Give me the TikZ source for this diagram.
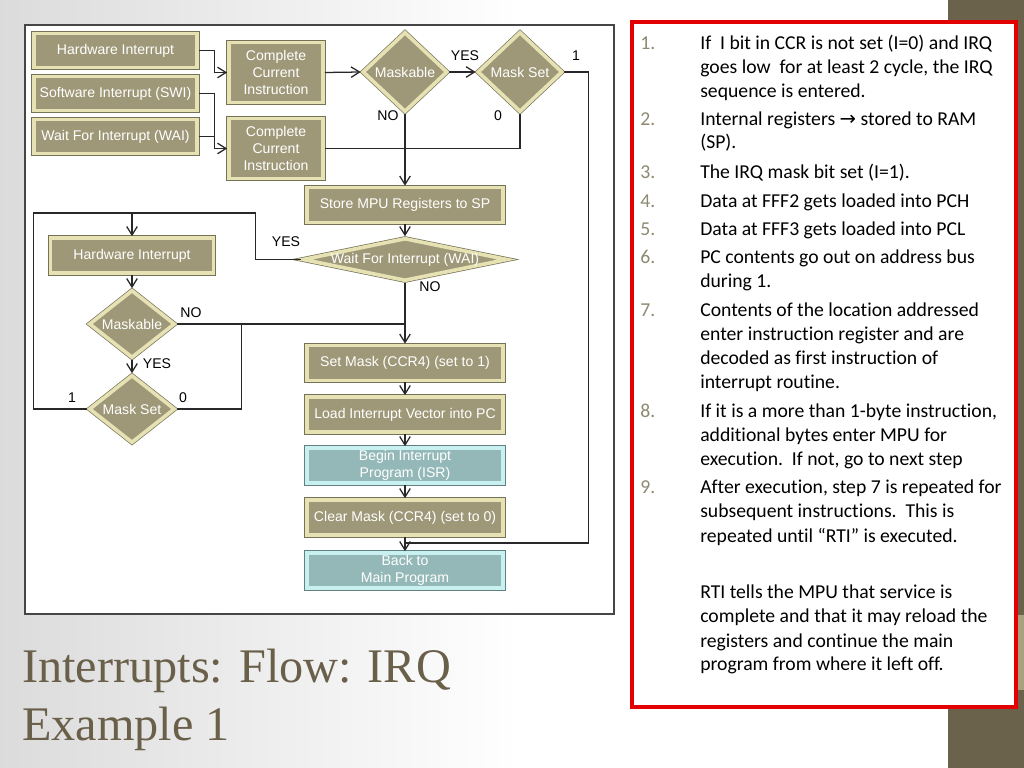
\documentclass[tikz,border=0pt]{standalone}
\usepackage{fontspec}
\setmainfont{Liberation Serif}
\newfontfamily\flowfont{Liberation Sans}
\newfontfamily\panelfont[Ligatures=NoCommon]{Carlito}
\newfontfamily\symfont{DejaVu Sans}
\usepackage{xcolor}
\usetikzlibrary{shapes.geometric, arrows.meta}

\definecolor{boxfill}{RGB}{158,152,120}
\definecolor{boxrim}{RGB}{230,226,180}
\definecolor{boxedge}{RGB}{118,114,88}
\definecolor{isrfill}{RGB}{148,184,184}
\definecolor{isrrim}{RGB}{200,240,240}
\definecolor{isredge}{RGB}{98,128,128}
\definecolor{linecol}{RGB}{40,40,40}
\definecolor{framecol}{RGB}{70,70,70}
\definecolor{titlecol}{RGB}{106,96,74}
\definecolor{stripcol}{RGB}{107,98,76}
\definecolor{tancol}{RGB}{168,162,128}
\definecolor{numcol}{RGB}{142,137,114}
\definecolor{panelred}{RGB}{226,0,0}

\newcommand{\dtext}[1]{\makebox[0pt]{#1}}

\tikzset{
  box/.style={rectangle, fill=boxfill, draw=boxrim, line width=2.6pt,
    preaction={draw=boxedge, line width=3.6pt}, text=white,
    font=\flowfont\fontsize{10}{12}\selectfont, align=center, inner sep=0pt},
  isrbox/.style={box, fill=isrfill, draw=isrrim,
    preaction={draw=isredge, line width=3.6pt}},
  decide/.style={box, diamond, inner sep=0pt},
  flow/.style={draw=linecol, line width=0.9pt, -{Straight Barb[length=6pt,width=7.5pt]}},
  link/.style={draw=linecol, line width=0.9pt},
  tag/.style={font=\flowfont\fontsize{10}{12}\selectfont, inner sep=0pt},
  num/.style={font=\panelfont\fontsize{14}{17}\selectfont, text=numcol, anchor=base west, inner sep=0pt},
  note/.style={font=\panelfont\fontsize{14}{17}\selectfont, anchor=base west, inner sep=0pt},
  headline/.style={font=\fontsize{34.3}{41}\selectfont, text=titlecol, anchor=base west, inner sep=0pt}
}

\begin{document}
\begin{tikzpicture}[x=0.025cm, y=-0.025cm]
  \useasboundingbox (0,0) rectangle (1024,768);
  % slide background
  \fill[white] (0,0) rectangle (1024,768);
  \shade[left color=black!14, right color=white] (0,0) rectangle (520,768);
  \fill[stripcol] (948,0) rectangle (1024,768);
  \fill[tancol] (1017,615) rectangle (1024,690);
  \draw[draw=framecol, line width=0.9pt, fill=white] (25,25) rectangle (614,614);
  \draw[draw=panelred, line width=2.4pt, fill=white] (632,22) rectangle (1016,707);

  % sources
  \node[box, minimum width=4.075cm, minimum height=0.85cm] (hw1) at (115.5,50.5) {Hardware Interrupt};
  \node[box, minimum width=4.075cm, minimum height=0.85cm] (swi) at (115.5,93.5) {Software Interrupt (SWI)};
  \node[box, minimum width=4.075cm, minimum height=0.85cm] (wai) at (115.5,136.5) {Wait For Interrupt (WAI)};
  \node[box, minimum width=2.35cm, minimum height=1.5cm] (cci1) at (276,72.5) {Complete\\Current\\Instruction};
  \node[box, minimum width=2.35cm, minimum height=1.5cm] (cci2) at (276,148.5) {Complete\\Current\\Instruction};
  \node[decide, minimum width=2.125cm, minimum height=2cm] (mask1) at (405,72) {\dtext{Maskable}};
  \node[decide, minimum width=2.125cm, minimum height=2cm] (mset1) at (520,72) {\dtext{Mask Set}};

  % main column
  \node[box, minimum width=4.9cm, minimum height=0.875cm] (store) at (405,205) {Store MPU Registers to SP};
  \node[decide, minimum width=5.125cm, minimum height=1.075cm] (waitd) at (405,259.5) {\dtext{Wait For Interrupt (WAI)}};
  \node[box, minimum width=4.9cm, minimum height=0.875cm] (setm) at (405,363) {Set Mask (CCR4) (set to 1)};
  \node[box, minimum width=4.9cm, minimum height=0.875cm] (load) at (405,414.5) {Load Interrupt Vector into PC};
  \node[isrbox, minimum width=4.9cm, minimum height=0.875cm] (isr) at (405,465.5) {Begin Interrupt\\Program (ISR)};
  \node[box, minimum width=4.9cm, minimum height=0.875cm] (clear) at (405,517.5) {Clear Mask (CCR4) (set to 0)};
  \node[isrbox, minimum width=4.9cm, minimum height=0.875cm] (back) at (405,570.5) {Back to\\Main Program};

  % waiting loop
  \node[box, minimum width=4.075cm, minimum height=0.875cm] (hw2) at (132,255.5) {Hardware Interrupt};
  \node[decide, minimum width=2.15cm, minimum height=1.7cm] (mask2) at (132,324) {\dtext{Maskable}};
  \node[decide, minimum width=2.15cm, minimum height=1.7cm] (mset2) at (132,409) {\dtext{Mask Set}};
  \coordinate (looptop) at (132,213);
  \coordinate (backjoin) at (405,543);

  % branch labels
  \node[tag] (yes1) at (465,56) {YES};
  \node[tag] (one1) at (576,56) {1};
  \node[tag] (no1) at (388,116) {NO};
  \node[tag] (zero1) at (498,116) {0};
  \node[tag] (yes2) at (286,242) {YES};
  \node[tag] (no2) at (430,287) {NO};
  \node[tag] (no3) at (191,313) {NO};
  \node[tag] (yes3) at (157,364) {YES};
  \node[tag] (one2) at (72,398) {1};
  \node[tag] (zero2) at (183,398) {0};

  % connectors
  \draw[flow] (hw1.east) -- ++(16,0) |- (cci1.west);
  \draw[flow] (swi.east) -- ++(16,0) |- (cci2.west);
  \draw[link] (wai.east) -- ++(16,0);
  \draw[flow] (cci1.east) -- (mask1.west);
  \draw[flow] (mask1.east) -- (mset1.west);
  \draw[link] (mset1.east) -- ++(24,0) |- (backjoin);
  \draw[flow] (mask1.south) -- (store.north);
  \draw[link] (cci2.east) -| (mset1.south);
  \draw[flow] (store.south) -- (waitd.north);
  \draw[flow] (waitd.south) -- (setm.north);
  \draw[link] (waitd.west) -- ++(-45,0) |- (looptop);
  \draw[link] (mset2.west) -- ++(-54,0) |- (looptop);
  \draw[flow] (looptop) -- (hw2.north);
  \draw[flow] (hw2.south) -- (mask2.north);
  \draw[flow] (mask2.south) -- (mset2.north);
  \draw[link] (mask2.east) -- (mask2.east -| setm.north);
  \draw[link] (mset2.east) -- ++(65,0) |- (mask2.east);
  \draw[flow] (setm.south) -- (load.north);
  \draw[flow] (load.south) -- (isr.north);
  \draw[flow] (isr.south) -- (clear.north);
  \draw[flow] (clear.south) -- (back.north);

  % notes
  \foreach \yy/\n in {50/1, 126/2, 178/3, 207/4, 235/5, 263/6, 316/7, 417/8, 493/9}
    \node[num] (num\n) at (640,\yy) {\n.};
  \foreach \yy/\txt [count=\k] in {
      50/{If\ \ I bit in CCR is not set (I=0) and IRQ},
      74/{goes low\ \ for at least 2 cycle, the IRQ},
      98/{sequence is entered.},
      126/{Internal registers {\symfont →} stored to RAM},
      149/{(SP).},
      178/{The IRQ mask bit set (I=1).},
      207/{Data at FFF2 gets loaded into PCH},
      235/{Data at FFF3 gets loaded into PCL},
      263/{PC contents go out on address bus},
      287/{during 1.},
      316/{Contents of the location addressed},
      340/{enter instruction register and are},
      364/{decoded as first instruction of},
      388/{interrupt routine.},
      417/{If it is a more than 1-byte instruction,},
      441/{additional bytes enter MPU for},
      465/{execution.\ \ If not, go to next step},
      493/{After execution, step 7 is repeated for},
      517/{subsequent instructions.\ \ This is},
      542/{repeated until “RTI” is executed.},
      598/{RTI tells the MPU that service is},
      622/{complete and that it may reload the},
      647/{registers and continue the main},
      670/{program from where it left off.}}
    \node[note] (line\k) at (700,\yy) {\txt};

  % title
  \node[headline] (title1) at (22,682) {Interrupts: Flow: IRQ};
  \node[headline] (title2) at (22,740) {Example 1};
\end{tikzpicture}
\end{document}
